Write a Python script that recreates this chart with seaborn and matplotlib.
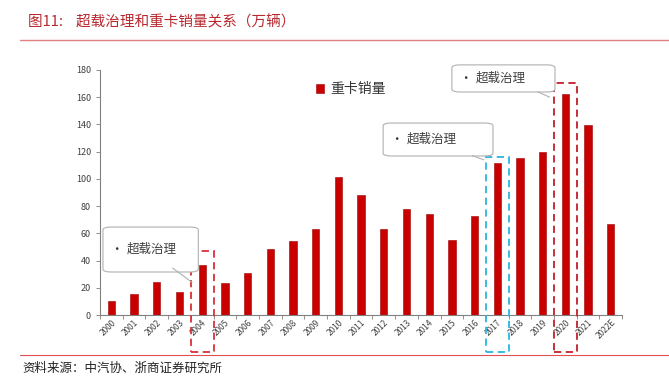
import numpy as np
import pandas as pd
import matplotlib
matplotlib.use("Agg")
import matplotlib.pyplot as plt
import seaborn as sns
from matplotlib.patches import Rectangle, FancyBboxPatch

# data (万辆)
years = ["2000", "2001", "2002", "2003", "2004", "2005", "2006", "2007", "2008",
         "2009", "2010", "2011", "2012", "2013", "2014", "2015", "2016", "2017",
         "2018", "2019", "2020", "2021", "2022E"]
sales = [10, 15.5, 24, 17, 37, 23.5, 30.5, 48.5, 54, 63.5, 101.5, 88.5, 63.3,
         77.5, 74.3, 55, 73, 111.5, 115, 119.5, 162.5, 139.5, 67]
highlight_years = ["2004", "2017", "2020"]
highlight_colors = ["#D6303A", "#2BB5E0", "#C0202A"]
series_name = "重卡销量"
title_text = "图11:    超载治理和重卡销量关系（万辆）"
source_text = "资料来源：中汽协、浙商证券研究所"
callout_text = "超载治理"

sns.set_theme(style="white")
plt.rcParams["font.family"] = ["Noto Sans CJK SC", "DejaVu Sans"]

df = pd.DataFrame({"year": years, "sales": sales, "series": series_name})

fig = plt.figure(figsize=(6.69, 3.80), dpi=100)
ax = fig.add_axes([0.1495, 0.171, 0.7805, 0.645])

sns.barplot(data=df, x="year", y="sales", hue="series", palette=["#C80000"],
            saturation=1, width=0.32, ax=ax, edgecolor="#A00000", linewidth=0.4)

ax.set_xlim(-0.5, len(years) - 0.5)
ax.set_ylim(0, 180)
ax.set_xlabel("")
ax.set_ylabel("")
ax.yaxis.set_major_locator(plt.MultipleLocator(20))

for side in ["top", "right"]:
    ax.spines[side].set_visible(False)
for side in ["left", "bottom"]:
    ax.spines[side].set_color("#808080")
    ax.spines[side].set_linewidth(0.8)

ax.tick_params(axis="y", which="major", direction="out", length=3, width=0.6,
               colors="#808080", labelsize=6.5, labelcolor="#404040", left=True)
ax.tick_params(axis="x", which="major", length=0, labelsize=6, labelcolor="#404040", pad=2)
ax.set_xticks(np.arange(len(years) + 1) - 0.5, minor=True)
ax.tick_params(axis="x", which="minor", direction="out", length=3, width=0.6,
               colors="#808080", bottom=True)
for lbl in ax.get_xticklabels():
    lbl.set_rotation(45)
    lbl.set_ha("right")
    lbl.set_rotation_mode("anchor")

ax.legend(loc="upper left", bbox_to_anchor=(0.39, 1.0), frameon=False,
          fontsize=10, handlelength=0.6, handleheight=0.6, handletextpad=0.4,
          labelcolor="#333333")

# dashed highlight boxes around the key years
box_tops = [47, 116, 170.5]
for yr, top, col in zip(highlight_years, box_tops, highlight_colors):
    i = years.index(yr)
    ax.add_patch(Rectangle((i - 0.5, -27), 1.0, top + 27, fill=False,
                           edgecolor=col, linestyle=(0, (4, 2.5)), linewidth=1.3,
                           clip_on=False, zorder=5))

# callout boxes
callouts = [
    # (x0, y0, width, height, pointer start, pointer end)
    (-0.37, 31.6, 4.2, 33.0, (2.7, 34.5), (3.55, 24)),
    (11.97, 116.8, 4.84, 24.2, (15.9, 117), (16.4, 114)),
    (15.0, 163.8, 4.54, 19.9, (18.8, 163.8), (19.3, 160)),
]
for x0, y0, w, h, p0, p1 in callouts:
    ax.add_patch(FancyBboxPatch((x0, y0), w, h,
                                boxstyle="round,pad=0,rounding_size=0.35",
                                facecolor="white", edgecolor="#B0B0B0",
                                linewidth=0.8, clip_on=False, zorder=6,
                                mutation_aspect=6))
    ax.plot([p0[0], p1[0]], [p0[1], p1[1]], color="#B0B0B0", linewidth=0.8,
            clip_on=False, zorder=6)
    ax.text(x0 + 0.3, y0 + h / 2, "•", ha="left", va="center", fontsize=9,
            color="#333333", zorder=7)
    ax.text(x0 + 1.05, y0 + h / 2, callout_text, ha="left", va="center",
            fontsize=9, color="#404040", zorder=7)

# header / footer
fig.text(28 / 669, 1 - 22 / 380, title_text, ha="left", va="center",
         fontsize=10.5, color="#B8282E")
fig.add_artist(plt.Line2D([20 / 669, 1], [1 - 40 / 380] * 2, color="#E08080",
                          linewidth=1.0, transform=fig.transFigure))
fig.add_artist(plt.Line2D([20 / 669, 1], [1 - 355 / 380] * 2, color="#E05050",
                          linewidth=0.8, transform=fig.transFigure))
fig.text(22 / 669, 1 - 368 / 380, source_text, ha="left", va="center",
         fontsize=9, color="#222222")

fig.savefig("out.png", dpi=100)
